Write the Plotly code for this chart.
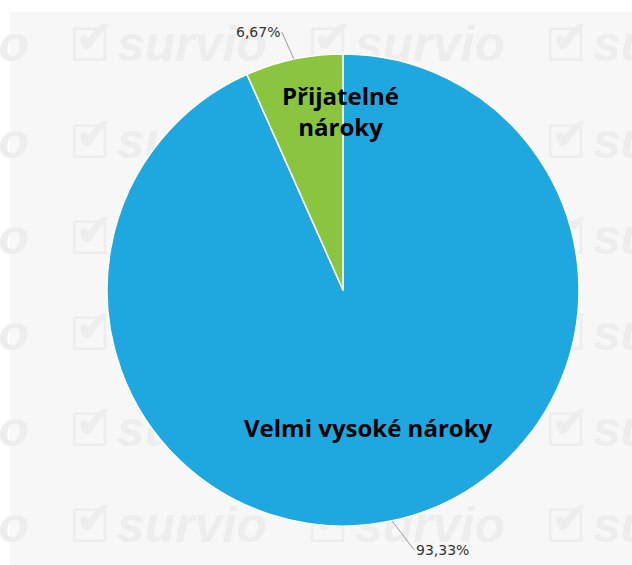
import math
import plotly.graph_objects as go

# ---- data ----
labels = ["Velmi vysoké nároky", "Přijatelné nároky"]
values = [93.33, 6.67]
pct_text = ["93,33%", "6,67%"]
colors = ["#1fa8e0", "#8bc540"]

W, H = 632, 565
CX, CY, R = 343, 290, 236  # pie centre / radius in pixels

fig = go.Figure()

# background watermark (drawn under the pie via a hidden cartesian layer)
box_x, box_y, chk_x, chk_y, wm_x, wm_y = [], [], [], [], [], []
for row_y in [45, 142, 238, 334, 430, 526]:
    for col_x in [-165, 73, 311, 549]:
        box_x.append(col_x - 4)
        box_y.append(row_y + 4)
        chk_x.append(col_x + 2)
        chk_y.append(row_y - 4)
        wm_x.append(col_x + 44)
        wm_y.append(row_y + 3)
wm_color = "#ededed"
fig.add_trace(go.Scatter(
    x=box_x, y=box_y, text=["☐"] * len(box_x), mode="text", textposition="middle right",
    textfont=dict(family="DejaVu Sans", size=46, color=wm_color),
    hoverinfo="skip", showlegend=False,
))
fig.add_trace(go.Scatter(
    x=chk_x, y=chk_y, text=["✔"] * len(chk_x), mode="text", textposition="middle right",
    textfont=dict(family="DejaVu Sans", size=46, color=wm_color),
    hoverinfo="skip", showlegend=False,
))
fig.add_trace(go.Scatter(
    x=wm_x, y=wm_y, text=["<b><i>survio</i></b>"] * len(wm_x), mode="text",
    textposition="middle right",
    textfont=dict(family="Liberation Sans", size=50, color=wm_color),
    hoverinfo="skip", showlegend=False,
))

# pie
dx0 = (CX - R) / W
dx1 = (CX + R) / W
dy0 = (H - CY - R) / H
dy1 = (H - CY + R) / H
fig.add_trace(go.Pie(
    labels=labels, values=values, sort=False, direction="clockwise", rotation=0,
    marker=dict(colors=colors, line=dict(color="white", width=1.5)),
    textinfo="none", hoverinfo="label+percent", showlegend=False,
    domain=dict(x=[dx0, dx1], y=[dy0, dy1]),
))

# percent labels with leader lines at slice mid-angles
total = sum(values)
cum = 0
offsets = [(22, 29, "left"), (-12, -27, "right")]
for i, v in enumerate(values):
    mid = (cum + v / 2) / total * 2 * math.pi
    cum += v
    tx = CX + R * math.sin(mid)
    ty = CY - R * math.cos(mid)
    ax, ay, xa = offsets[i]
    fig.add_annotation(
        x=tx, y=ty, xref="x", yref="y", text=pct_text[i],
        showarrow=True, arrowhead=0, arrowwidth=1, arrowcolor="#9a9a9a",
        ax=ax, ay=ay, xanchor=xa, yanchor="middle", standoff=0,
        font=dict(family="DejaVu Sans", size=14, color="#333333"),
    )

# slice labels
fig.add_annotation(x=340, y=111, xref="x", yref="y", text="<b>Přijatelné<br>nároky</b>",
                   showarrow=False, align="center",
                   font=dict(family="Open Sans", size=24, color="#000000"))
fig.add_annotation(x=368, y=427, xref="x", yref="y", text="<b>Velmi vysoké nároky</b>",
                   showarrow=False,
                   font=dict(family="Open Sans", size=24, color="#000000"))

fig.update_layout(
    width=W, height=H,
    margin=dict(l=0, r=0, t=0, b=0),
    paper_bgcolor="white", plot_bgcolor="rgba(0,0,0,0)",
    xaxis=dict(range=[0, W], visible=False, fixedrange=True),
    yaxis=dict(range=[H, 0], visible=False, fixedrange=True),
    shapes=[dict(type="rect", xref="paper", yref="paper",
                 x0=10 / W, x1=1, y0=0, y1=1 - 12 / H,
                 fillcolor="#f7f7f7", line=dict(width=0), layer="below")],
)

fig.write_html("out.html", post_script="document.body.style.margin='0';",
               config={"displayModeBar": False})
